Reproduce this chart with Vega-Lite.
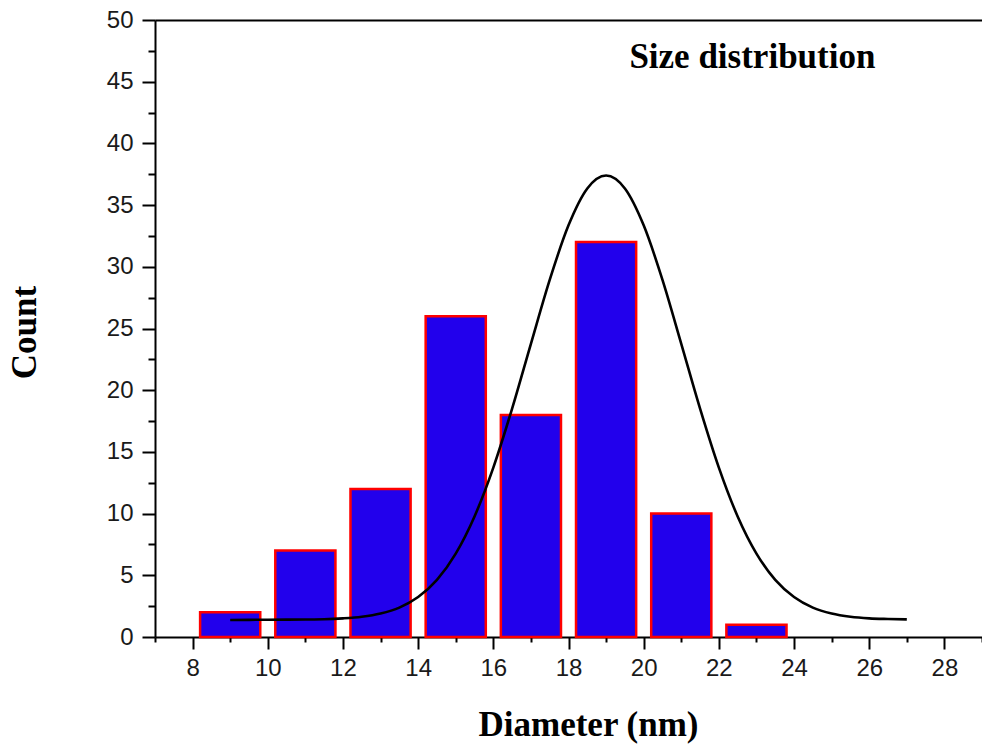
{
  "$schema": "https://vega.github.io/schema/vega-lite/v6.json",
  "autosize": "none",
  "width": 827,
  "height": 617,
  "padding": {"left": 155, "top": 20, "right": 0, "bottom": 109},
  "background": "white",
  "config": {"view": {"stroke": null}},
  "datasets": {
    "bins": [
      {"start": 8.2, "end": 9.8, "count": 2},
      {"start": 10.2, "end": 11.8, "count": 7},
      {"start": 12.2, "end": 13.8, "count": 12},
      {"start": 14.2, "end": 15.8, "count": 26},
      {"start": 16.2, "end": 17.8, "count": 18},
      {"start": 18.2, "end": 19.8, "count": 32},
      {"start": 20.2, "end": 21.8, "count": 10},
      {"start": 22.2, "end": 23.8, "count": 1}
    ],
    "fit": [
      {"d": 9, "c": 1.38}, {"d": 9.5, "c": 1.39}, {"d": 10, "c": 1.40}, {"d": 10.5, "c": 1.41},
      {"d": 11, "c": 1.42}, {"d": 11.5, "c": 1.44}, {"d": 12, "c": 1.51}, {"d": 12.5, "c": 1.64},
      {"d": 13, "c": 1.90}, {"d": 13.5, "c": 2.38}, {"d": 14, "c": 3.24}, {"d": 14.5, "c": 4.63},
      {"d": 15, "c": 6.76}, {"d": 15.5, "c": 9.77}, {"d": 16, "c": 13.73}, {"d": 16.5, "c": 18.51},
      {"d": 17, "c": 23.76}, {"d": 17.5, "c": 28.94}, {"d": 18, "c": 33.36}, {"d": 18.5, "c": 36.35},
      {"d": 19, "c": 37.4}, {"d": 19.5, "c": 36.35}, {"d": 20, "c": 33.36}, {"d": 20.5, "c": 28.94},
      {"d": 21, "c": 23.76}, {"d": 21.5, "c": 18.51}, {"d": 22, "c": 13.73}, {"d": 22.5, "c": 9.77},
      {"d": 23, "c": 6.76}, {"d": 23.5, "c": 4.63}, {"d": 24, "c": 3.24}, {"d": 24.5, "c": 2.38},
      {"d": 25, "c": 1.90}, {"d": 25.5, "c": 1.64}, {"d": 26, "c": 1.51}, {"d": 26.5, "c": 1.46},
      {"d": 27, "c": 1.43}
    ],
    "note": [
      {"d": 19.62, "c": 46.1, "label": "Size distribution"}
    ]
  },
  "resolve": {"axis": {"x": "independent", "y": "independent"}},
  "layer": [
    {
      "data": {"name": "bins"},
      "mark": {"type": "bar", "fill": "#2200ec", "stroke": "#ff0000", "strokeWidth": 2.5},
      "encoding": {
        "x": {
          "field": "start", "type": "quantitative",
          "scale": {"domain": [7, 29], "nice": false, "zero": false},
          "axis": {
            "values": [7, 8, 9, 10, 11, 12, 13, 14, 15, 16, 17, 18, 19, 20, 21, 22, 23, 24, 25, 26, 27, 28, 29],
            "labelExpr": "datum.value % 2 === 0 ? datum.label : ''",
            "tickSize": {"condition": {"test": "datum.value % 2 !== 0", "value": 5}, "value": 12},
            "tickColor": "black", "tickWidth": 2,
            "domainColor": "black", "domainWidth": 2,
            "labelFont": "Liberation Sans", "labelFontSize": 24, "labelColor": "#1a1a1a",
            "labelPadding": 7, "labelFlush": false,
            "grid": false,
            "title": "Diameter (nm)",
            "titleFont": "Liberation Serif", "titleFontSize": 35, "titleFontWeight": "bold", "titleColor": "black",
            "titleX": 433, "titleY": 98, "titleAlign": "center", "titleBaseline": "alphabetic"
          }
        },
        "x2": {"field": "end"},
        "y": {
          "field": "count", "type": "quantitative",
          "scale": {"domain": [0, 50], "nice": false},
          "axis": {
            "values": [0, 2.5, 5, 7.5, 10, 12.5, 15, 17.5, 20, 22.5, 25, 27.5, 30, 32.5, 35, 37.5, 40, 42.5, 45, 47.5, 50],
            "labelExpr": "datum.value % 5 === 0 ? datum.label : ''",
            "tickSize": {"condition": {"test": "datum.value % 5 !== 0", "value": 7}, "value": 13},
            "tickColor": "black", "tickWidth": 2,
            "domainColor": "black", "domainWidth": 2,
            "labelFont": "Liberation Sans", "labelFontSize": 24, "labelColor": "#1a1a1a",
            "labelPadding": 9, "labelFlush": false,
            "grid": false,
            "title": "Count",
            "titleFont": "Liberation Serif", "titleFontSize": 35, "titleFontWeight": "bold", "titleColor": "black",
            "titleAngle": -90, "titleX": -120, "titleY": 312, "titleAlign": "center", "titleBaseline": "alphabetic"
          }
        },
        "y2": {"datum": 0}
      }
    },
    {
      "data": {"name": "fit"},
      "mark": {"type": "line", "color": "black", "strokeWidth": 2.6, "interpolate": "monotone"},
      "encoding": {
        "x": {
          "field": "d", "type": "quantitative",
          "axis": {"orient": "top", "labels": false, "ticks": false, "title": null, "grid": false, "domainColor": "black", "domainWidth": 2}
        },
        "y": {"field": "c", "type": "quantitative", "axis": null}
      }
    },
    {
      "data": {"name": "note"},
      "mark": {"type": "text", "align": "left", "baseline": "alphabetic", "font": "Liberation Serif", "fontSize": 35, "fontWeight": "bold", "color": "black"},
      "encoding": {
        "x": {"field": "d", "type": "quantitative", "axis": null},
        "y": {"field": "c", "type": "quantitative", "axis": null},
        "text": {"field": "label"}
      }
    }
  ]
}
